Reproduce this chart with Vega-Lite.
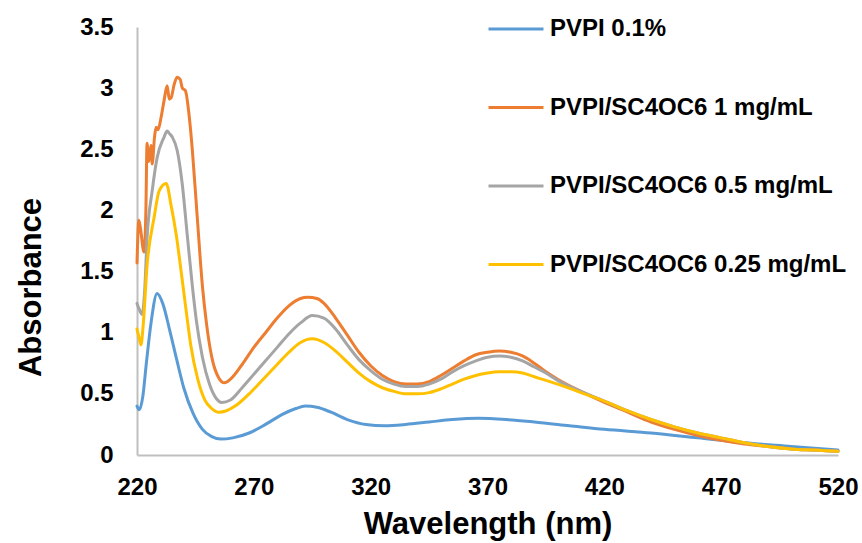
{
  "$schema": "https://vega.github.io/schema/vega-lite/v6.json",
  "width": 701,
  "height": 428,
  "autosize": "none",
  "padding": {"left": 137, "top": 27, "right": 24, "bottom": 88},
  "background": "white",
  "config": {
    "view": {"stroke": null},
    "font": "Liberation Sans"
  },
  "data": {
    "values": [
      {"s": "PVPI 0.1%", "wl": 220, "a": 0.40},
      {"s": "PVPI 0.1%", "wl": 221, "a": 0.37},
      {"s": "PVPI 0.1%", "wl": 222.5, "a": 0.48},
      {"s": "PVPI 0.1%", "wl": 224, "a": 0.75},
      {"s": "PVPI 0.1%", "wl": 226, "a": 1.08},
      {"s": "PVPI 0.1%", "wl": 228.6, "a": 1.32},
      {"s": "PVPI 0.1%", "wl": 231, "a": 1.24},
      {"s": "PVPI 0.1%", "wl": 234, "a": 1.02},
      {"s": "PVPI 0.1%", "wl": 237, "a": 0.78},
      {"s": "PVPI 0.1%", "wl": 240, "a": 0.55},
      {"s": "PVPI 0.1%", "wl": 244, "a": 0.34},
      {"s": "PVPI 0.1%", "wl": 248, "a": 0.21},
      {"s": "PVPI 0.1%", "wl": 252, "a": 0.15},
      {"s": "PVPI 0.1%", "wl": 256, "a": 0.13},
      {"s": "PVPI 0.1%", "wl": 261, "a": 0.14},
      {"s": "PVPI 0.1%", "wl": 268, "a": 0.18},
      {"s": "PVPI 0.1%", "wl": 275, "a": 0.25},
      {"s": "PVPI 0.1%", "wl": 282, "a": 0.33},
      {"s": "PVPI 0.1%", "wl": 288, "a": 0.38},
      {"s": "PVPI 0.1%", "wl": 292, "a": 0.40},
      {"s": "PVPI 0.1%", "wl": 297, "a": 0.39},
      {"s": "PVPI 0.1%", "wl": 303, "a": 0.35},
      {"s": "PVPI 0.1%", "wl": 310, "a": 0.29},
      {"s": "PVPI 0.1%", "wl": 318, "a": 0.25},
      {"s": "PVPI 0.1%", "wl": 326, "a": 0.24},
      {"s": "PVPI 0.1%", "wl": 335, "a": 0.25},
      {"s": "PVPI 0.1%", "wl": 345, "a": 0.27},
      {"s": "PVPI 0.1%", "wl": 355, "a": 0.29},
      {"s": "PVPI 0.1%", "wl": 366, "a": 0.30},
      {"s": "PVPI 0.1%", "wl": 378, "a": 0.29},
      {"s": "PVPI 0.1%", "wl": 390, "a": 0.27},
      {"s": "PVPI 0.1%", "wl": 405, "a": 0.24},
      {"s": "PVPI 0.1%", "wl": 420, "a": 0.21},
      {"s": "PVPI 0.1%", "wl": 440, "a": 0.18},
      {"s": "PVPI 0.1%", "wl": 460, "a": 0.14},
      {"s": "PVPI 0.1%", "wl": 480, "a": 0.10},
      {"s": "PVPI 0.1%", "wl": 500, "a": 0.07},
      {"s": "PVPI 0.1%", "wl": 520, "a": 0.04},

      {"s": "PVPI/SC4OC6 1 mg/mL", "wl": 220, "a": 1.57},
      {"s": "PVPI/SC4OC6 1 mg/mL", "wl": 220.8, "a": 1.92},
      {"s": "PVPI/SC4OC6 1 mg/mL", "wl": 221.5, "a": 1.85},
      {"s": "PVPI/SC4OC6 1 mg/mL", "wl": 223, "a": 1.66},
      {"s": "PVPI/SC4OC6 1 mg/mL", "wl": 223.8, "a": 2.0},
      {"s": "PVPI/SC4OC6 1 mg/mL", "wl": 224.3, "a": 2.55},
      {"s": "PVPI/SC4OC6 1 mg/mL", "wl": 225, "a": 2.40},
      {"s": "PVPI/SC4OC6 1 mg/mL", "wl": 226, "a": 2.53},
      {"s": "PVPI/SC4OC6 1 mg/mL", "wl": 226.5, "a": 2.38},
      {"s": "PVPI/SC4OC6 1 mg/mL", "wl": 227.5, "a": 2.6},
      {"s": "PVPI/SC4OC6 1 mg/mL", "wl": 228.2, "a": 2.68},
      {"s": "PVPI/SC4OC6 1 mg/mL", "wl": 229, "a": 2.66},
      {"s": "PVPI/SC4OC6 1 mg/mL", "wl": 230.3, "a": 2.76},
      {"s": "PVPI/SC4OC6 1 mg/mL", "wl": 231.6, "a": 2.9},
      {"s": "PVPI/SC4OC6 1 mg/mL", "wl": 232.9, "a": 3.02},
      {"s": "PVPI/SC4OC6 1 mg/mL", "wl": 233.8, "a": 2.91},
      {"s": "PVPI/SC4OC6 1 mg/mL", "wl": 234.6, "a": 2.92},
      {"s": "PVPI/SC4OC6 1 mg/mL", "wl": 235.9, "a": 3.03},
      {"s": "PVPI/SC4OC6 1 mg/mL", "wl": 237.2, "a": 3.09},
      {"s": "PVPI/SC4OC6 1 mg/mL", "wl": 238.5, "a": 3.07},
      {"s": "PVPI/SC4OC6 1 mg/mL", "wl": 239.4, "a": 3.0},
      {"s": "PVPI/SC4OC6 1 mg/mL", "wl": 240.7, "a": 2.98},
      {"s": "PVPI/SC4OC6 1 mg/mL", "wl": 242.4, "a": 2.76},
      {"s": "PVPI/SC4OC6 1 mg/mL", "wl": 243.7, "a": 2.49},
      {"s": "PVPI/SC4OC6 1 mg/mL", "wl": 245.8, "a": 1.94},
      {"s": "PVPI/SC4OC6 1 mg/mL", "wl": 248, "a": 1.38},
      {"s": "PVPI/SC4OC6 1 mg/mL", "wl": 249.7, "a": 1.08},
      {"s": "PVPI/SC4OC6 1 mg/mL", "wl": 252, "a": 0.80},
      {"s": "PVPI/SC4OC6 1 mg/mL", "wl": 255, "a": 0.63},
      {"s": "PVPI/SC4OC6 1 mg/mL", "wl": 257.4, "a": 0.59},
      {"s": "PVPI/SC4OC6 1 mg/mL", "wl": 260, "a": 0.62},
      {"s": "PVPI/SC4OC6 1 mg/mL", "wl": 265, "a": 0.74},
      {"s": "PVPI/SC4OC6 1 mg/mL", "wl": 270, "a": 0.88},
      {"s": "PVPI/SC4OC6 1 mg/mL", "wl": 275, "a": 1.00},
      {"s": "PVPI/SC4OC6 1 mg/mL", "wl": 280, "a": 1.12},
      {"s": "PVPI/SC4OC6 1 mg/mL", "wl": 285, "a": 1.22},
      {"s": "PVPI/SC4OC6 1 mg/mL", "wl": 290, "a": 1.28},
      {"s": "PVPI/SC4OC6 1 mg/mL", "wl": 293, "a": 1.29},
      {"s": "PVPI/SC4OC6 1 mg/mL", "wl": 297, "a": 1.28},
      {"s": "PVPI/SC4OC6 1 mg/mL", "wl": 300, "a": 1.24},
      {"s": "PVPI/SC4OC6 1 mg/mL", "wl": 305, "a": 1.12},
      {"s": "PVPI/SC4OC6 1 mg/mL", "wl": 310, "a": 0.98},
      {"s": "PVPI/SC4OC6 1 mg/mL", "wl": 315, "a": 0.84},
      {"s": "PVPI/SC4OC6 1 mg/mL", "wl": 320, "a": 0.73},
      {"s": "PVPI/SC4OC6 1 mg/mL", "wl": 325, "a": 0.65},
      {"s": "PVPI/SC4OC6 1 mg/mL", "wl": 330, "a": 0.60},
      {"s": "PVPI/SC4OC6 1 mg/mL", "wl": 335, "a": 0.58},
      {"s": "PVPI/SC4OC6 1 mg/mL", "wl": 340, "a": 0.58},
      {"s": "PVPI/SC4OC6 1 mg/mL", "wl": 345, "a": 0.60},
      {"s": "PVPI/SC4OC6 1 mg/mL", "wl": 350, "a": 0.65},
      {"s": "PVPI/SC4OC6 1 mg/mL", "wl": 355, "a": 0.71},
      {"s": "PVPI/SC4OC6 1 mg/mL", "wl": 360, "a": 0.77},
      {"s": "PVPI/SC4OC6 1 mg/mL", "wl": 365, "a": 0.82},
      {"s": "PVPI/SC4OC6 1 mg/mL", "wl": 370, "a": 0.84},
      {"s": "PVPI/SC4OC6 1 mg/mL", "wl": 375, "a": 0.85},
      {"s": "PVPI/SC4OC6 1 mg/mL", "wl": 380, "a": 0.84},
      {"s": "PVPI/SC4OC6 1 mg/mL", "wl": 385, "a": 0.81},
      {"s": "PVPI/SC4OC6 1 mg/mL", "wl": 390, "a": 0.75},
      {"s": "PVPI/SC4OC6 1 mg/mL", "wl": 395, "a": 0.68},
      {"s": "PVPI/SC4OC6 1 mg/mL", "wl": 400, "a": 0.62},
      {"s": "PVPI/SC4OC6 1 mg/mL", "wl": 410, "a": 0.52},
      {"s": "PVPI/SC4OC6 1 mg/mL", "wl": 420, "a": 0.43},
      {"s": "PVPI/SC4OC6 1 mg/mL", "wl": 430, "a": 0.35},
      {"s": "PVPI/SC4OC6 1 mg/mL", "wl": 440, "a": 0.27},
      {"s": "PVPI/SC4OC6 1 mg/mL", "wl": 450, "a": 0.21},
      {"s": "PVPI/SC4OC6 1 mg/mL", "wl": 460, "a": 0.16},
      {"s": "PVPI/SC4OC6 1 mg/mL", "wl": 470, "a": 0.12},
      {"s": "PVPI/SC4OC6 1 mg/mL", "wl": 480, "a": 0.09},
      {"s": "PVPI/SC4OC6 1 mg/mL", "wl": 490, "a": 0.07},
      {"s": "PVPI/SC4OC6 1 mg/mL", "wl": 500, "a": 0.05},
      {"s": "PVPI/SC4OC6 1 mg/mL", "wl": 510, "a": 0.04},
      {"s": "PVPI/SC4OC6 1 mg/mL", "wl": 520, "a": 0.03},

      {"s": "PVPI/SC4OC6 0.5 mg/mL", "wl": 220, "a": 1.24},
      {"s": "PVPI/SC4OC6 0.5 mg/mL", "wl": 221, "a": 1.19},
      {"s": "PVPI/SC4OC6 0.5 mg/mL", "wl": 222.2, "a": 1.15},
      {"s": "PVPI/SC4OC6 0.5 mg/mL", "wl": 223.3, "a": 1.35},
      {"s": "PVPI/SC4OC6 0.5 mg/mL", "wl": 224.3, "a": 1.77},
      {"s": "PVPI/SC4OC6 0.5 mg/mL", "wl": 226.5, "a": 2.16},
      {"s": "PVPI/SC4OC6 0.5 mg/mL", "wl": 228.6, "a": 2.43},
      {"s": "PVPI/SC4OC6 0.5 mg/mL", "wl": 231.6, "a": 2.6},
      {"s": "PVPI/SC4OC6 0.5 mg/mL", "wl": 232.9, "a": 2.65},
      {"s": "PVPI/SC4OC6 0.5 mg/mL", "wl": 233.8, "a": 2.63},
      {"s": "PVPI/SC4OC6 0.5 mg/mL", "wl": 235.1, "a": 2.6},
      {"s": "PVPI/SC4OC6 0.5 mg/mL", "wl": 237.2, "a": 2.49},
      {"s": "PVPI/SC4OC6 0.5 mg/mL", "wl": 239.4, "a": 2.21},
      {"s": "PVPI/SC4OC6 0.5 mg/mL", "wl": 241.5, "a": 1.8},
      {"s": "PVPI/SC4OC6 0.5 mg/mL", "wl": 243.7, "a": 1.38},
      {"s": "PVPI/SC4OC6 0.5 mg/mL", "wl": 245.4, "a": 1.1},
      {"s": "PVPI/SC4OC6 0.5 mg/mL", "wl": 248, "a": 0.80},
      {"s": "PVPI/SC4OC6 0.5 mg/mL", "wl": 251, "a": 0.58},
      {"s": "PVPI/SC4OC6 0.5 mg/mL", "wl": 254, "a": 0.46},
      {"s": "PVPI/SC4OC6 0.5 mg/mL", "wl": 256.2, "a": 0.43},
      {"s": "PVPI/SC4OC6 0.5 mg/mL", "wl": 260, "a": 0.45},
      {"s": "PVPI/SC4OC6 0.5 mg/mL", "wl": 265, "a": 0.55},
      {"s": "PVPI/SC4OC6 0.5 mg/mL", "wl": 270, "a": 0.66},
      {"s": "PVPI/SC4OC6 0.5 mg/mL", "wl": 275, "a": 0.77},
      {"s": "PVPI/SC4OC6 0.5 mg/mL", "wl": 280, "a": 0.88},
      {"s": "PVPI/SC4OC6 0.5 mg/mL", "wl": 285, "a": 0.99},
      {"s": "PVPI/SC4OC6 0.5 mg/mL", "wl": 290, "a": 1.08},
      {"s": "PVPI/SC4OC6 0.5 mg/mL", "wl": 295, "a": 1.14},
      {"s": "PVPI/SC4OC6 0.5 mg/mL", "wl": 300, "a": 1.12},
      {"s": "PVPI/SC4OC6 0.5 mg/mL", "wl": 305, "a": 1.03},
      {"s": "PVPI/SC4OC6 0.5 mg/mL", "wl": 310, "a": 0.90},
      {"s": "PVPI/SC4OC6 0.5 mg/mL", "wl": 315, "a": 0.78},
      {"s": "PVPI/SC4OC6 0.5 mg/mL", "wl": 320, "a": 0.69},
      {"s": "PVPI/SC4OC6 0.5 mg/mL", "wl": 325, "a": 0.62},
      {"s": "PVPI/SC4OC6 0.5 mg/mL", "wl": 330, "a": 0.58},
      {"s": "PVPI/SC4OC6 0.5 mg/mL", "wl": 335, "a": 0.56},
      {"s": "PVPI/SC4OC6 0.5 mg/mL", "wl": 340, "a": 0.56},
      {"s": "PVPI/SC4OC6 0.5 mg/mL", "wl": 345, "a": 0.58},
      {"s": "PVPI/SC4OC6 0.5 mg/mL", "wl": 350, "a": 0.62},
      {"s": "PVPI/SC4OC6 0.5 mg/mL", "wl": 355, "a": 0.68},
      {"s": "PVPI/SC4OC6 0.5 mg/mL", "wl": 360, "a": 0.73},
      {"s": "PVPI/SC4OC6 0.5 mg/mL", "wl": 365, "a": 0.77},
      {"s": "PVPI/SC4OC6 0.5 mg/mL", "wl": 370, "a": 0.80},
      {"s": "PVPI/SC4OC6 0.5 mg/mL", "wl": 375, "a": 0.81},
      {"s": "PVPI/SC4OC6 0.5 mg/mL", "wl": 380, "a": 0.80},
      {"s": "PVPI/SC4OC6 0.5 mg/mL", "wl": 385, "a": 0.77},
      {"s": "PVPI/SC4OC6 0.5 mg/mL", "wl": 390, "a": 0.72},
      {"s": "PVPI/SC4OC6 0.5 mg/mL", "wl": 395, "a": 0.67},
      {"s": "PVPI/SC4OC6 0.5 mg/mL", "wl": 400, "a": 0.61},
      {"s": "PVPI/SC4OC6 0.5 mg/mL", "wl": 410, "a": 0.52},
      {"s": "PVPI/SC4OC6 0.5 mg/mL", "wl": 420, "a": 0.44},
      {"s": "PVPI/SC4OC6 0.5 mg/mL", "wl": 430, "a": 0.36},
      {"s": "PVPI/SC4OC6 0.5 mg/mL", "wl": 440, "a": 0.29},
      {"s": "PVPI/SC4OC6 0.5 mg/mL", "wl": 450, "a": 0.23},
      {"s": "PVPI/SC4OC6 0.5 mg/mL", "wl": 460, "a": 0.18},
      {"s": "PVPI/SC4OC6 0.5 mg/mL", "wl": 470, "a": 0.14},
      {"s": "PVPI/SC4OC6 0.5 mg/mL", "wl": 480, "a": 0.10},
      {"s": "PVPI/SC4OC6 0.5 mg/mL", "wl": 490, "a": 0.07},
      {"s": "PVPI/SC4OC6 0.5 mg/mL", "wl": 500, "a": 0.05},
      {"s": "PVPI/SC4OC6 0.5 mg/mL", "wl": 510, "a": 0.04},
      {"s": "PVPI/SC4OC6 0.5 mg/mL", "wl": 520, "a": 0.03},

      {"s": "PVPI/SC4OC6 0.25 mg/mL", "wl": 220, "a": 1.03},
      {"s": "PVPI/SC4OC6 0.25 mg/mL", "wl": 221, "a": 0.95},
      {"s": "PVPI/SC4OC6 0.25 mg/mL", "wl": 221.7, "a": 0.90},
      {"s": "PVPI/SC4OC6 0.25 mg/mL", "wl": 222.6, "a": 1.05},
      {"s": "PVPI/SC4OC6 0.25 mg/mL", "wl": 224.3, "a": 1.55},
      {"s": "PVPI/SC4OC6 0.25 mg/mL", "wl": 227.3, "a": 1.94},
      {"s": "PVPI/SC4OC6 0.25 mg/mL", "wl": 229.5, "a": 2.16},
      {"s": "PVPI/SC4OC6 0.25 mg/mL", "wl": 232.5, "a": 2.22},
      {"s": "PVPI/SC4OC6 0.25 mg/mL", "wl": 234.6, "a": 2.04},
      {"s": "PVPI/SC4OC6 0.25 mg/mL", "wl": 236.8, "a": 1.80},
      {"s": "PVPI/SC4OC6 0.25 mg/mL", "wl": 238.9, "a": 1.50},
      {"s": "PVPI/SC4OC6 0.25 mg/mL", "wl": 241.1, "a": 1.17},
      {"s": "PVPI/SC4OC6 0.25 mg/mL", "wl": 243, "a": 0.90},
      {"s": "PVPI/SC4OC6 0.25 mg/mL", "wl": 246, "a": 0.62},
      {"s": "PVPI/SC4OC6 0.25 mg/mL", "wl": 249, "a": 0.45},
      {"s": "PVPI/SC4OC6 0.25 mg/mL", "wl": 252, "a": 0.38},
      {"s": "PVPI/SC4OC6 0.25 mg/mL", "wl": 255, "a": 0.35},
      {"s": "PVPI/SC4OC6 0.25 mg/mL", "wl": 258, "a": 0.36},
      {"s": "PVPI/SC4OC6 0.25 mg/mL", "wl": 262, "a": 0.40},
      {"s": "PVPI/SC4OC6 0.25 mg/mL", "wl": 268, "a": 0.50},
      {"s": "PVPI/SC4OC6 0.25 mg/mL", "wl": 274, "a": 0.62},
      {"s": "PVPI/SC4OC6 0.25 mg/mL", "wl": 280, "a": 0.74},
      {"s": "PVPI/SC4OC6 0.25 mg/mL", "wl": 285, "a": 0.84},
      {"s": "PVPI/SC4OC6 0.25 mg/mL", "wl": 290, "a": 0.92},
      {"s": "PVPI/SC4OC6 0.25 mg/mL", "wl": 295, "a": 0.95},
      {"s": "PVPI/SC4OC6 0.25 mg/mL", "wl": 300, "a": 0.92},
      {"s": "PVPI/SC4OC6 0.25 mg/mL", "wl": 305, "a": 0.85},
      {"s": "PVPI/SC4OC6 0.25 mg/mL", "wl": 310, "a": 0.76},
      {"s": "PVPI/SC4OC6 0.25 mg/mL", "wl": 315, "a": 0.67},
      {"s": "PVPI/SC4OC6 0.25 mg/mL", "wl": 320, "a": 0.60},
      {"s": "PVPI/SC4OC6 0.25 mg/mL", "wl": 325, "a": 0.55},
      {"s": "PVPI/SC4OC6 0.25 mg/mL", "wl": 330, "a": 0.52},
      {"s": "PVPI/SC4OC6 0.25 mg/mL", "wl": 335, "a": 0.50},
      {"s": "PVPI/SC4OC6 0.25 mg/mL", "wl": 340, "a": 0.50},
      {"s": "PVPI/SC4OC6 0.25 mg/mL", "wl": 345, "a": 0.51},
      {"s": "PVPI/SC4OC6 0.25 mg/mL", "wl": 350, "a": 0.54},
      {"s": "PVPI/SC4OC6 0.25 mg/mL", "wl": 355, "a": 0.58},
      {"s": "PVPI/SC4OC6 0.25 mg/mL", "wl": 360, "a": 0.62},
      {"s": "PVPI/SC4OC6 0.25 mg/mL", "wl": 365, "a": 0.65},
      {"s": "PVPI/SC4OC6 0.25 mg/mL", "wl": 370, "a": 0.67},
      {"s": "PVPI/SC4OC6 0.25 mg/mL", "wl": 375, "a": 0.68},
      {"s": "PVPI/SC4OC6 0.25 mg/mL", "wl": 380, "a": 0.68},
      {"s": "PVPI/SC4OC6 0.25 mg/mL", "wl": 385, "a": 0.67},
      {"s": "PVPI/SC4OC6 0.25 mg/mL", "wl": 390, "a": 0.64},
      {"s": "PVPI/SC4OC6 0.25 mg/mL", "wl": 395, "a": 0.61},
      {"s": "PVPI/SC4OC6 0.25 mg/mL", "wl": 400, "a": 0.58},
      {"s": "PVPI/SC4OC6 0.25 mg/mL", "wl": 410, "a": 0.51},
      {"s": "PVPI/SC4OC6 0.25 mg/mL", "wl": 420, "a": 0.44},
      {"s": "PVPI/SC4OC6 0.25 mg/mL", "wl": 430, "a": 0.36},
      {"s": "PVPI/SC4OC6 0.25 mg/mL", "wl": 440, "a": 0.29},
      {"s": "PVPI/SC4OC6 0.25 mg/mL", "wl": 450, "a": 0.23},
      {"s": "PVPI/SC4OC6 0.25 mg/mL", "wl": 460, "a": 0.18},
      {"s": "PVPI/SC4OC6 0.25 mg/mL", "wl": 470, "a": 0.14},
      {"s": "PVPI/SC4OC6 0.25 mg/mL", "wl": 480, "a": 0.10},
      {"s": "PVPI/SC4OC6 0.25 mg/mL", "wl": 490, "a": 0.07},
      {"s": "PVPI/SC4OC6 0.25 mg/mL", "wl": 500, "a": 0.05},
      {"s": "PVPI/SC4OC6 0.25 mg/mL", "wl": 510, "a": 0.04},
      {"s": "PVPI/SC4OC6 0.25 mg/mL", "wl": 520, "a": 0.03}
    ]
  },
  "mark": {"type": "line", "interpolate": "monotone", "strokeWidth": 3, "strokeCap": "round", "strokeJoin": "round"},
  "encoding": {
    "x": {
      "field": "wl",
      "type": "quantitative",
      "scale": {"domain": [220, 520], "nice": false, "zero": false},
      "axis": {
        "title": "Wavelength (nm)",
        "values": [220, 270, 320, 370, 420, 470, 520],
        "grid": false,
        "ticks": false,
        "domainColor": "#BFBFBF",
        "domainWidth": 2,
        "labelFont": "Liberation Sans",
        "labelFontWeight": "bold",
        "labelFontSize": 24,
        "labelColor": "#000000",
        "labelPadding": 20,
        "labelFlush": false,
        "titleFont": "Liberation Sans",
        "titleFontWeight": "bold",
        "titleFontSize": 31,
        "titleColor": "#000000",
        "titlePadding": 10
      }
    },
    "y": {
      "field": "a",
      "type": "quantitative",
      "scale": {"domain": [0, 3.5], "nice": false},
      "axis": {
        "title": "Absorbance",
        "values": [0, 0.5, 1, 1.5, 2, 2.5, 3, 3.5],
        "format": "~g",
        "grid": false,
        "ticks": false,
        "domainColor": "#BFBFBF",
        "domainWidth": 2,
        "labelFont": "Liberation Sans",
        "labelFontWeight": "bold",
        "labelFontSize": 24,
        "labelColor": "#000000",
        "labelPadding": 24,
        "labelFlush": false,
        "titleFont": "Liberation Sans",
        "titleFontWeight": "bold",
        "titleFontSize": 31,
        "titleColor": "#000000",
        "titlePadding": 32,
        "titleY": 260
      }
    },
    "color": {
      "field": "s",
      "type": "nominal",
      "sort": null,
      "scale": {
        "domain": ["PVPI 0.1%", "PVPI/SC4OC6 1 mg/mL", "PVPI/SC4OC6 0.5 mg/mL", "PVPI/SC4OC6 0.25 mg/mL"],
        "range": ["#5B9BD5", "#ED7D31", "#A5A5A5", "#FFC000"]
      },
      "legend": {
        "title": null,
        "orient": "none",
        "legendX": 350,
        "legendY": -8,
        "padding": 0,
        "symbolType": "stroke",
        "symbolSize": 3025,
        "symbolStrokeWidth": 3,
        "clipHeight": 20,
        "rowPadding": 54.5,
        "labelOffset": 5,
        "labelFont": "Liberation Sans",
        "labelFontWeight": "bold",
        "labelFontSize": 24,
        "labelColor": "#000000",
        "labelLimit": 400
      }
    }
  }
}
